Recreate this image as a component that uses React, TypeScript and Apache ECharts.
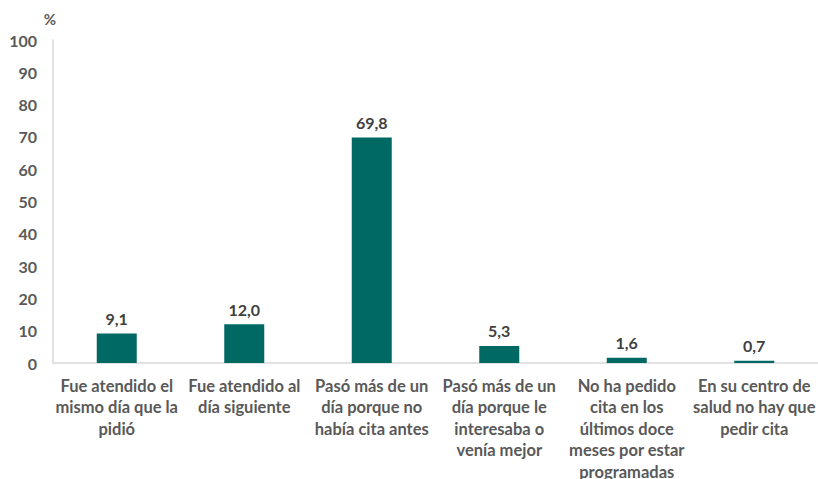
import React, { useEffect, useRef } from "react";
import * as echarts from "echarts";

const categories = [
  "Fue atendido el\nmismo día que la\npidió",
  "Fue atendido al\ndía siguiente",
  "Pasó más de un\ndía porque no\nhabía cita antes",
  "Pasó más de un\ndía porque le\ninteresaba o\nvenía mejor",
  "No ha pedido\ncita en los\núltimos doce\nmeses por estar\nprogramadas",
  "En su centro de\nsalud no hay que\npedir cita",
];
const values = [9.1, 12.0, 69.8, 5.3, 1.6, 0.7];

const FONT = "Lato";

export default function App() {
  const ref = useRef<HTMLDivElement>(null);
  useEffect(() => {
    document.body.style.margin = "0";
    const chart = echarts.init(ref.current!, null, { renderer: "svg" });
    chart.setOption({
      animation: false,
      backgroundColor: "#ffffff",
      grid: {
        left: 53,
        right: 0,
        top: 40,
        bottom: 116,
        containLabel: false,
        outerBoundsMode: "none",
      },
      xAxis: {
        type: "category",
        data: categories,
        axisLine: { lineStyle: { color: "#d9d9d9", width: 1.5 } },
        axisTick: { show: false },
        axisLabel: {
          interval: 0,
          margin: 12,
          color: "#595959",
          fontFamily: FONT,
          fontWeight: "bold",
          fontSize: 16.5,
          lineHeight: 21.5,
          verticalAlign: "top",
        },
      },
      yAxis: {
        type: "value",
        min: 0,
        max: 100,
        interval: 10,
        name: "%",
        nameLocation: "end",
        nameGap: 14,
        nameTextStyle: {
          color: "#595959",
          fontFamily: FONT,
          fontWeight: "bold",
          fontSize: 15,
          align: "right",
          padding: [0, -3, 0, 0],
        },
        axisLine: { show: true, lineStyle: { color: "#d9d9d9", width: 1.5 } },
        axisTick: { show: false },
        splitLine: { show: false },
        axisLabel: {
          margin: 16,
          color: "#595959",
          fontFamily: FONT,
          fontWeight: "bold",
          fontSize: 16,
        },
      },
      series: [
        {
          type: "bar",
          data: values,
          barWidth: 40,
          itemStyle: { color: "#006963" },
          label: {
            show: true,
            position: "top",
            distance: 7,
            color: "#404040",
            fontFamily: FONT,
            fontWeight: "bold",
            fontSize: 16,
            formatter: (p: any) => p.value.toFixed(1).replace(".", ","),
          },
        },
      ],
    });
    return () => chart.dispose();
  }, []);
  return (
    <div
      ref={ref}
      style={{ position: "fixed", left: 0, top: 0, width: 818, height: 479 }}
    />
  );
}
